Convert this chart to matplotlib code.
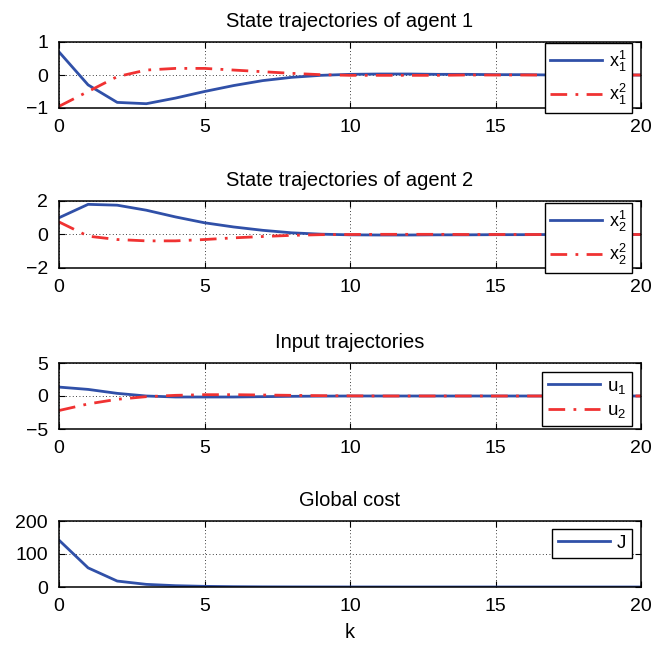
import matplotlib
matplotlib.use("Agg")
import matplotlib.pyplot as plt
import numpy as np

plt.rcParams['font.family'] = ['Liberation Sans', 'DejaVu Sans']
plt.rcParams['mathtext.fontset'] = 'custom'
plt.rcParams['mathtext.rm'] = 'Liberation Sans'
plt.rcParams['mathtext.it'] = 'Liberation Sans'

k = list(range(21))
x1_1 = [0.70, -0.30, -0.83, -0.87, -0.70, -0.50, -0.32, -0.17, -0.07, -0.01, 0.02, 0.03, 0.03,
        0.02, 0.02, 0.01, 0.01, 0.0, 0.0, 0.0, 0.0]
x1_2 = [-0.95, -0.50, -0.05, 0.15, 0.20, 0.20, 0.15, 0.10, 0.05, 0.01, -0.01, -0.01, -0.01,
        -0.01, 0.0, 0.0, 0.0, 0.0, 0.0, 0.0, 0.0]
x2_1 = [1.00, 1.80, 1.75, 1.45, 1.05, 0.70, 0.45, 0.25, 0.10, 0.02, -0.02, -0.03, -0.03,
        -0.02, -0.02, -0.01, -0.01, 0.0, 0.0, 0.0, 0.0]
x2_2 = [0.75, -0.10, -0.30, -0.38, -0.38, -0.30, -0.20, -0.12, -0.05, -0.01, 0.0, 0.01, 0.01,
        0.01, 0.0, 0.0, 0.0, 0.0, 0.0, 0.0, 0.0]
u1 = [1.35, 1.00, 0.40, 0.00, -0.15, -0.15, -0.15, -0.10, -0.05, -0.02, 0.0, 0.0, 0.0,
      0.0, 0.0, 0.0, 0.0, 0.0, 0.0, 0.0, 0.0]
u2 = [-2.20, -1.20, -0.50, -0.10, 0.10, 0.20, 0.20, 0.15, 0.10, 0.05, 0.02, 0.0, 0.0,
      0.0, 0.0, 0.0, 0.0, 0.0, 0.0, 0.0, 0.0]
J = [142, 58, 18, 8, 4, 2, 1, 0.5, 0.3, 0.2, 0.1, 0.1, 0.0, 0.0, 0.0, 0.0, 0.0, 0.0, 0.0, 0.0, 0.0]

titles = ["State trajectories of agent 1", "State trajectories of agent 2",
          "Input trajectories", "Global cost"]
xticks = [0, 5, 10, 15, 20]

BLUE = '#3050a8'
RED = '#f03232'
DASHDOT = (0, (6, 3, 1, 3))

W, H = 653, 651
fig = plt.figure(figsize=(W / 100, H / 100), dpi=100)

def px_axes(top, bottom, left=59, right=641):
    return fig.add_axes([left / W, 1 - bottom / H, (right - left) / W, (bottom - top) / H])

panels = [
    dict(top=42, bottom=108, series=[(x1_1, r'$\mathregular{x_1^1}$', BLUE, '-'),
                                    (x1_2, r'$\mathregular{x_1^2}$', RED, DASHDOT)],
         ylim=(-1, 1), yticks=[-1, 0, 1], leg=(0.9845, 0.985), ls=0.45, fs=13),
    dict(top=201, bottom=268, series=[(x2_1, r'$\mathregular{x_2^1}$', BLUE, '-'),
                                     (x2_2, r'$\mathregular{x_2^2}$', RED, DASHDOT)],
         ylim=(-2, 2), yticks=[-2, 0, 2], leg=(0.9845, 0.970), ls=0.45, fs=13),
    dict(top=363, bottom=429, series=[(u1, r'$\mathregular{u_1}$', BLUE, '-'),
                                     (u2, r'$\mathregular{u_2}$', RED, DASHDOT)],
         ylim=(-5, 5), yticks=[-5, 0, 5], leg=(0.9845, 0.864), ls=0.33, fs=13.5),
    dict(top=521, bottom=587, series=[(J, 'J', BLUE, '-')],
         ylim=(0, 200), yticks=[0, 100, 200], leg=(0.9845, 0.879), ls=0.33, fs=13.5),
]

for i, p in enumerate(panels):
    ax = px_axes(p['top'], p['bottom'])
    for ys, lab, col, ls in p['series']:
        ax.plot(k, ys, color=col, lw=2, linestyle=ls, label=lab)
    ax.set_xlim(0, 20)
    ax.set_ylim(*p['ylim'])
    ax.set_xticks(xticks)
    ax.set_yticks(p['yticks'])
    ax.grid(True, color='black', linestyle=(0, (1, 3)), lw=0.6)
    ax.set_axisbelow(True)
    ax.tick_params(direction='in', length=4, width=0.8, top=True, right=True,
                   labelsize=14)
    ax.tick_params(axis='x', pad=8)
    ax.tick_params(axis='y', pad=8)
    for s in ax.spines.values():
        s.set_linewidth(1.1)
    ax.set_title(titles[i], fontsize=14.5, pad=11)
    handlelength = 52 / (p['fs'] * 100 / 72)
    leg = ax.legend(loc='upper right', bbox_to_anchor=p['leg'], borderaxespad=0,
                    fontsize=p['fs'], handlelength=handlelength, handletextpad=0.35,
                    labelspacing=p['ls'], borderpad=0.31, fancybox=False,
                    edgecolor='black', framealpha=1)
    leg.get_frame().set_linewidth(1.0)
    if i == 3:
        ax.set_xlabel('k', fontsize=14.5, labelpad=6)

fig.savefig('out.png', dpi=100)
